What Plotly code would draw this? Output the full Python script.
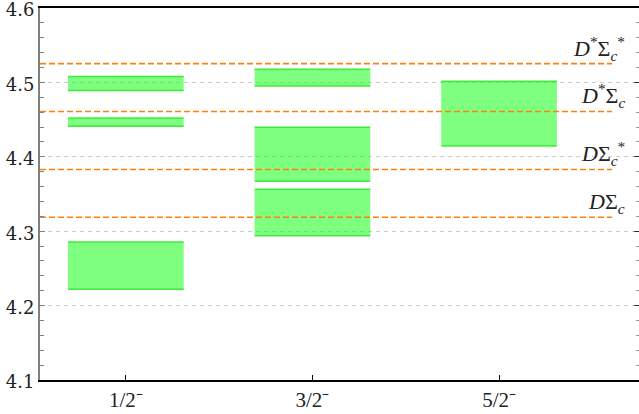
import plotly.graph_objects as go

# ---- data ----
categories = ["1/2⁻", "3/2⁻", "5/2⁻"]
box_cat = [0, 0, 0, 1, 1, 1, 2]
box_lo = [4.489, 4.441, 4.222, 4.495, 4.367, 4.294, 4.4145]
box_hi = [4.508, 4.452, 4.2855, 4.5176, 4.4397, 4.3563, 4.5015]

thr_names = ["<i>D</i>Σ<sub><i>c</i></sub>",
             "<i>D</i>Σ<sub><i>c</i></sub><sup>*</sup>",
             "<i>D</i><sup>*</sup>Σ<sub><i>c</i></sub>",
             "<i>D</i><sup>*</sup>Σ<sub><i>c</i></sub><sup>*</sup>"]
thr_values = [4.3188, 4.383, 4.4609, 4.5253]

# ---- style ----
bar_w = 0.62
x_range = [-0.46, 2.75]
line_end = 2.606
label_x = 2.685
green_fill = "rgba(0,255,0,0.5)"
green_edge = "rgba(40,230,40,0.85)"
orange = "#ff7f0e"
serif = "DejaVu Serif"

fig = go.Figure()

fig.add_trace(go.Bar(
    x=box_cat, y=[h - l for h, l in zip(box_hi, box_lo)], base=box_lo,
    width=bar_w, marker=dict(color=green_fill, line=dict(width=0)),
    showlegend=False, hoverinfo="skip"))

# top / bottom edges of the boxes
ex, ey = [], []
for c, lo, hi in zip(box_cat, box_lo, box_hi):
    for v in (lo, hi):
        ex += [c - bar_w / 2, c + bar_w / 2, None]
        ey += [v, v, None]
fig.add_trace(go.Scatter(x=ex, y=ey, mode="lines",
                         line=dict(color=green_edge, width=1.5),
                         showlegend=False, hoverinfo="skip"))

# thresholds
for name, v in zip(thr_names, thr_values):
    fig.add_trace(go.Scatter(x=[x_range[0], line_end], y=[v, v], mode="lines",
                             line=dict(color=orange, width=1.6, dash="6px,3px"),
                             showlegend=False, hoverinfo="skip", cliponaxis=True))
    fig.add_annotation(x=label_x, y=v, text=name, showarrow=False,
                       xanchor="right", yanchor="bottom", yshift=-2,
                       font=dict(family="Liberation Serif", size=22, color="#222"))

# invisible trace for right-side ticks
fig.add_trace(go.Scatter(x=[0], y=[4.3], yaxis="y2", mode="markers",
                         marker=dict(opacity=0), showlegend=False, hoverinfo="skip"))

fig.update_layout(
    width=639, height=414,
    margin=dict(l=40, r=0, t=8, b=34, autoexpand=False),
    plot_bgcolor="white", paper_bgcolor="white",
    barmode="overlay",
    xaxis=dict(range=x_range, tickvals=[0, 1, 2], ticktext=categories,
               automargin=False,
               showgrid=False, zeroline=False,
               showline=True, linecolor="black", linewidth=1.5, mirror=True,
               ticks="inside", ticklen=5, tickcolor="black", tickwidth=1,
               tickfont=dict(family="Liberation Serif", size=21, color="#222")),
    yaxis=dict(range=[4.1, 4.6], dtick=0.1, tickformat=".1f",
               automargin=False, ticklabeloverflow="allow", ticklabelshift=2,
               showgrid=True, gridcolor="#cccccc", griddash="4px,4px", gridwidth=1,
               zeroline=False,
               showline=True, linecolor="#808080", linewidth=2,
               ticks="inside", ticklen=5, tickcolor="#808080",
               minor=dict(dtick=0.02, ticks="inside", ticklen=4, tickcolor="#808080",
                          showgrid=False),
               tickfont=dict(family=serif, size=18, color="#222")),
    yaxis2=dict(range=[4.1, 4.6], overlaying="y", side="right", dtick=0.1,
                automargin=False,
                showgrid=False, zeroline=False, showline=False,
                showticklabels=False,
                ticks="inside", ticklen=5, tickcolor="#333",
                minor=dict(dtick=0.02, ticks="inside", ticklen=3, tickcolor="#999")),
)

fig.write_html("out.html", config={"displayModeBar": False},
               post_script="document.body.style.margin='0';")
